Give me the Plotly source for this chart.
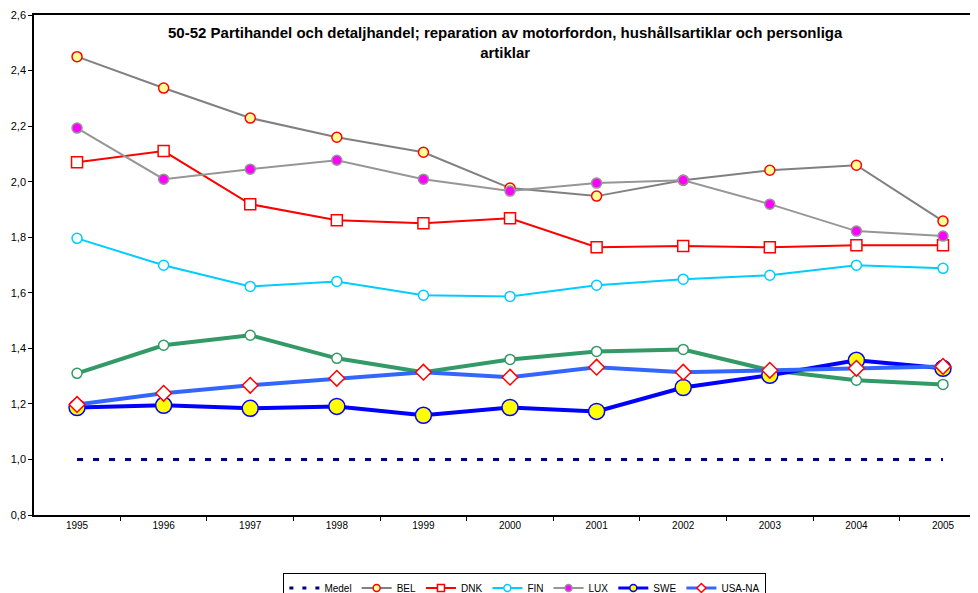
import plotly.graph_objects as go

years = [str(y) for y in range(1995, 2006)]
medel = [1.0] * 11
bel = [2.45, 2.337, 2.229, 2.160, 2.106, 1.977, 1.948, 2.005, 2.041, 2.059, 1.858]
dnk = [2.070, 2.110, 1.919, 1.861, 1.850, 1.868, 1.764, 1.768, 1.764, 1.771, 1.771]
fin = [1.796, 1.699, 1.623, 1.641, 1.591, 1.587, 1.627, 1.649, 1.663, 1.699, 1.688]
lux = [2.193, 2.009, 2.045, 2.077, 2.009, 1.966, 1.995, 2.005, 1.919, 1.822, 1.804]
unnamed = [1.310, 1.411, 1.447, 1.364, 1.314, 1.360, 1.389, 1.396, 1.321, 1.285, 1.270]
swe = [1.187, 1.195, 1.184, 1.191, 1.159, 1.187, 1.173, 1.259, 1.303, 1.357, 1.328]
usa = [1.198, 1.238, 1.267, 1.292, 1.314, 1.296, 1.332, 1.314, 1.321, 1.328, 1.335]
y_ticks = [0.8, 1.0, 1.2, 1.4, 1.6, 1.8, 2.0, 2.2, 2.4, 2.6]
y_tick_text = [f"{v:.1f}".replace(".", ",") for v in y_ticks]

# (name, values, line colour, line width, dash, symbol, size, fill, outline, in legend)
series = [
    ("Medel", medel, "#000080", 3, "6px,10px", None, 0, None, None, True),
    ("BEL", bel, "#808080", 2, "solid", "circle", 10, "#FFFF99", "#FF0000", True),
    ("DNK", dnk, "#FF0000", 2, "solid", "square", 11, "#FFFFFF", "#FF0000", True),
    ("FIN", fin, "#00CCFF", 2, "solid", "circle", 10, "#FFFFFF", "#00CCFF", True),
    ("LUX", lux, "#969696", 2, "solid", "circle", 10, "#FF00FF", "#969696", True),
    ("", unnamed, "#339966", 4, "solid", "circle", 10, "#FFFFFF", "#339966", False),
    ("SWE", swe, "#0000FF", 4, "solid", "circle", 16, "#FFFF00", "#0000FF", True),
    ("USA-NA", usa, "#3366FF", 4, "solid", "diamond", 12, "#FFFFFF", "#FF0000", True),
]

fig = go.Figure()
for name, vals, lc, lw, dash, sym, sz, fill, outline, inleg in series:
    if sym is None:
        fig.add_trace(go.Scatter(x=years, y=vals, name=name, mode="lines", showlegend=False,
                                 line=dict(color=lc, width=lw, dash=dash)))
    else:
        fig.add_trace(go.Scatter(x=years, y=vals, name=name, mode="lines+markers",
                                 showlegend=False, line=dict(color=lc, width=lw, dash=dash),
                                 marker=dict(symbol=sym, size=sz, color=fill,
                                             line=dict(color=outline, width=1.5))))
# legend-only entries with small symbols
for name, vals, lc, lw, dash, sym, sz, fill, outline, inleg in series:
    if not inleg:
        continue
    if sym is None:
        fig.add_trace(go.Scatter(x=[None], y=[None], name=name, mode="lines",
                                 line=dict(color=lc, width=lw, dash="4px,9px")))
    else:
        fig.add_trace(go.Scatter(x=[None], y=[None], name=name, mode="lines+markers",
                                 line=dict(color=lc, width=min(lw, 3)),
                                 marker=dict(symbol=sym, size=7, color=fill,
                                             line=dict(color=outline, width=1.5))))

# page body has an 8px margin, so the figure is offset by 8px; the figure is
# made a little taller than the window so the legend is cut at the bottom edge
fig.update_layout(
    width=978, height=612,
    margin=dict(l=26, r=8, t=7, b=105),
    paper_bgcolor="white", plot_bgcolor="white",
    font=dict(family="Arial, Liberation Sans, sans-serif", size=10, color="#000000"),
    showlegend=True,
    legend=dict(orientation="h", x=0.52, xanchor="center", y=-0.115, yanchor="top",
                bordercolor="#000000", borderwidth=1, font=dict(size=10),
                itemwidth=30, tracegroupgap=0),
    annotations=[dict(
        text="<b>50-52 Partihandel och detaljhandel; reparation av motorfordon, hushållsartiklar och personliga<br>artiklar</b>",
        x=(505 - 34) / 944, xref="paper", xanchor="center",
        y=(515 - 42) / 500, yref="paper", yanchor="middle", showarrow=False,
        font=dict(size=15, family="Arial, Liberation Sans, sans-serif"))],
)

fig.update_xaxes(type="category", range=[-0.497, 10.404], showgrid=False, automargin=False,
                 showline=True, linecolor="#000000", linewidth=1.5, mirror=True,
                 ticks="outside", tickson="boundaries", ticklen=4, tickcolor="#000000",
                 tickfont=dict(size=10))
fig.update_yaxes(range=[0.8, 2.6], tickvals=y_ticks, ticktext=y_tick_text, showgrid=False,
                 automargin=False, zeroline=False, showline=True, linecolor="#000000",
                 linewidth=1.5, ticks="outside", ticklen=4, tickcolor="#000000",
                 tickfont=dict(size=11))

fig.write_html("out.html")
